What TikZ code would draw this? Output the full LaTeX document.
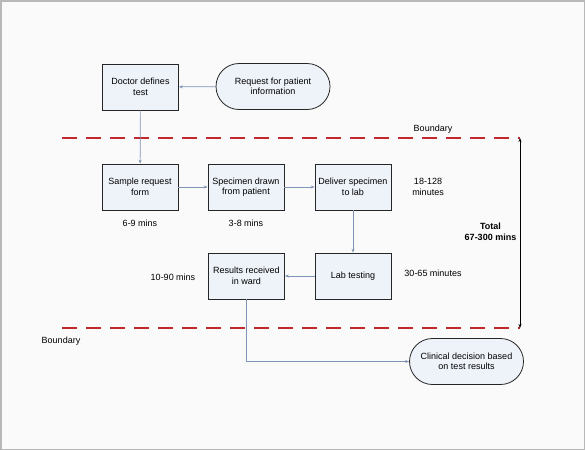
\documentclass[tikz,border=0pt]{standalone}
\usepackage{fontspec}
\setmainfont{Liberation Sans}
\usetikzlibrary{arrows.meta}
\definecolor{boxfill}{HTML}{EEF3FA}
\definecolor{conn}{HTML}{7F93B5}
\definecolor{bred}{HTML}{C0282D}
\begin{document}
\begin{tikzpicture}[x=1pt,y=-1pt,
  font=\fontsize{9}{10.5}\selectfont,
  procbox/.style={draw=black!85,fill=boxfill,line width=0.7pt,minimum width=76pt,minimum height=46pt,align=center,inner sep=1pt},
  termbox/.style={draw=black!85,fill=boxfill,line width=0.8pt,rounded corners=23pt,minimum width=114pt,minimum height=46pt,align=center,inner sep=1pt},
  conn/.style={draw=conn,line width=0.7pt,-{Stealth[length=4pt,width=3pt]}},
  bound/.style={draw=bred,line width=2.6pt,dash pattern=on 15pt off 9pt},
  lbl/.style={align=center,inner sep=0pt}]
\fill[white!98!black] (0,0) rectangle (585,450);
\draw[black!28,line width=1.5pt] (0.75,0.75) rectangle (584.25,449.25);
\useasboundingbox (0,0) rectangle (585,450);

\node[procbox] (doc) at (140.5,87) {Doctor defines\\test};
\node[termbox] (req) at (273,86.5) {Request for patient\\information};
\node[procbox] (sam) at (140,187) {Sample request\\form};
\node[procbox] (spe) at (246,187) {Specimen drawn\\from patient};
\node[procbox] (del) at (353,187) {Deliver specimen\\to lab};
\node[procbox] (lab) at (353,276) {Lab testing};
\node[procbox] (res) at (246.5,276) {Results received\\in ward};
\node[termbox] (cli) at (466.5,361.5) {Clinical decision based\\on test results};

\node[lbl] (t1) at (140,223) {6-9 mins};
\node[lbl] (t2) at (246,223) {3-8 mins};
\node[lbl] (t3) at (428,187) {18-128\\minutes};
\node[lbl] (t4) at (433,273) {30-65 minutes};
\node[lbl] (t5) at (173,277) {10-90 mins};
\node[lbl,font=\fontsize{9}{11}\selectfont\bfseries] (tot) at (490.5,232) {Total\\67-300 mins};
\node[lbl] (b1) at (433,129) {Boundary};
\node[lbl] (b2) at (61,341) {Boundary};

\coordinate (ul) at (62,138);
\coordinate (ur) at (520,138);
\coordinate (ll) at (62,328);
\coordinate (lr) at (520,328);
\draw[bound] (ul) -- (ur);
\draw[bound] (ll) -- (lr);
\draw[black,line width=0.7pt,{Stealth[length=4pt,width=3pt]}-{Stealth[length=4pt,width=3pt]}] (ur) -- (lr);

\draw[conn] (req) -- (doc);
\draw[conn] (doc) -- (sam);
\draw[conn] (sam) -- (spe);
\draw[conn] (spe) -- (del);
\draw[conn] (del) -- (lab);
\draw[conn] (lab) -- (res);
\draw[conn] (res) |- (cli);
\end{tikzpicture}
\end{document}
